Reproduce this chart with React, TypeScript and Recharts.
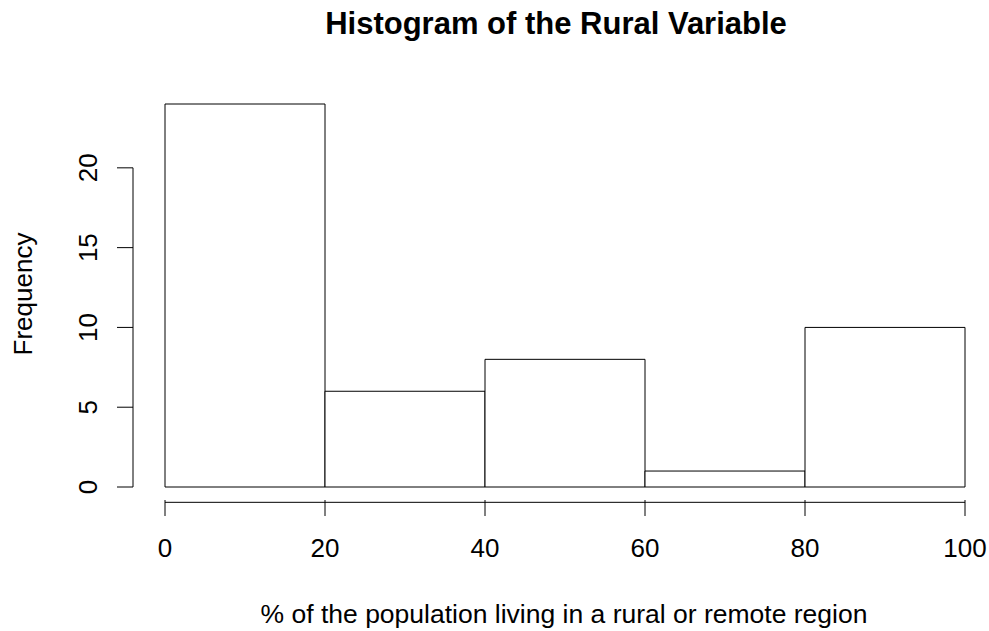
import { BarChart, Bar, XAxis, YAxis, ReferenceLine } from "recharts";

const binStart = [0, 20, 40, 60, 80];
const binEnd = [20, 40, 60, 80, 100];
const counts = [24, 6, 8, 1, 10];
const xTicks = [0, 20, 40, 60, 80, 100];
const yTicks = [0, 5, 10, 15, 20];

const data = binStart.map((start, i) => ({
  bin: `${start}-${binEnd[i]}`,
  mid: (start + binEnd[i]) / 2,
  count: counts[i],
}));

const FONT = '"Liberation Sans", Arial, Helvetica, sans-serif';

// recharts hands the tick a y about 32px below the plot bottom
const XTick = ({ x, y, payload }: any) => (
  <g>
    <line x1={x} x2={x} y1={y - 17} y2={y - 1} stroke="#000" />
    <text x={x} y={y + 40} textAnchor="middle" fontSize={26} fontFamily={FONT} fill="#000">
      {payload.value}
    </text>
  </g>
);

const YTick = ({ x, y, payload }: any) => (
  <g>
    <line x1={x - 48} x2={x - 32} y1={y} y2={y} stroke="#000" />
    <text
      x={x - 68}
      y={y}
      transform={`rotate(-90, ${x - 68}, ${y})`}
      textAnchor="middle"
      fontSize={26}
      fontFamily={FONT}
      fill="#000"
    >
      {payload.value}
    </text>
  </g>
);

const App = () => {
  return (
    <div style={{ position: "absolute", left: 0, top: 0, width: 989, height: 631, background: "#fff" }}>
      <BarChart
        width={989}
        height={631}
        data={data}
        margin={{ top: 104, right: 24, bottom: 0, left: 0 }}
        barCategoryGap={0}
        barGap={0}
      >
        <XAxis xAxisId="cat" dataKey="bin" hide />
        <XAxis
          xAxisId="num"
          type="number"
          dataKey="mid"
          domain={[0, 100]}
          ticks={xTicks}
          interval={0}
          height={144}
          axisLine={false}
          tickLine={false}
          tickSize={0}
          tickMargin={0}
          tick={<XTick />}
        />
        <YAxis
          type="number"
          domain={[0, 24]}
          ticks={yTicks}
          interval={0}
          width={165}
          axisLine={false}
          tickLine={false}
          tickSize={0}
          tickMargin={0}
          tick={<YTick />}
        />
        <Bar
          xAxisId="cat"
          dataKey="count"
          fill="#fff"
          stroke="#000"
          strokeWidth={1}
          isAnimationActive={false}
        />
        <ReferenceLine
          xAxisId="num"
          segment={[{ x: 0, y: -0.96 }, { x: 100, y: -0.96 }]}
          stroke="#000"
          ifOverflow="visible"
        />
        <ReferenceLine
          xAxisId="num"
          segment={[{ x: -4, y: 0 }, { x: -4, y: 20 }]}
          stroke="#000"
          ifOverflow="visible"
        />
      </BarChart>
      <svg
        width={989}
        height={631}
        style={{ position: "absolute", left: 0, top: 0, pointerEvents: "none" }}
      >
        <text x={556} y={34} textAnchor="middle" fontSize={31} fontWeight="bold" fontFamily={FONT}>
          Histogram of the Rural Variable
        </text>
        <text x={564} y={623} textAnchor="middle" fontSize={26.5} fontFamily={FONT}>
          % of the population living in a rural or remote region
        </text>
        <text
          x={32}
          y={294}
          transform="rotate(-90, 32, 294)"
          textAnchor="middle"
          fontSize={26}
          fontFamily={FONT}
        >
          Frequency
        </text>
      </svg>
    </div>
  );
};

export default App;
